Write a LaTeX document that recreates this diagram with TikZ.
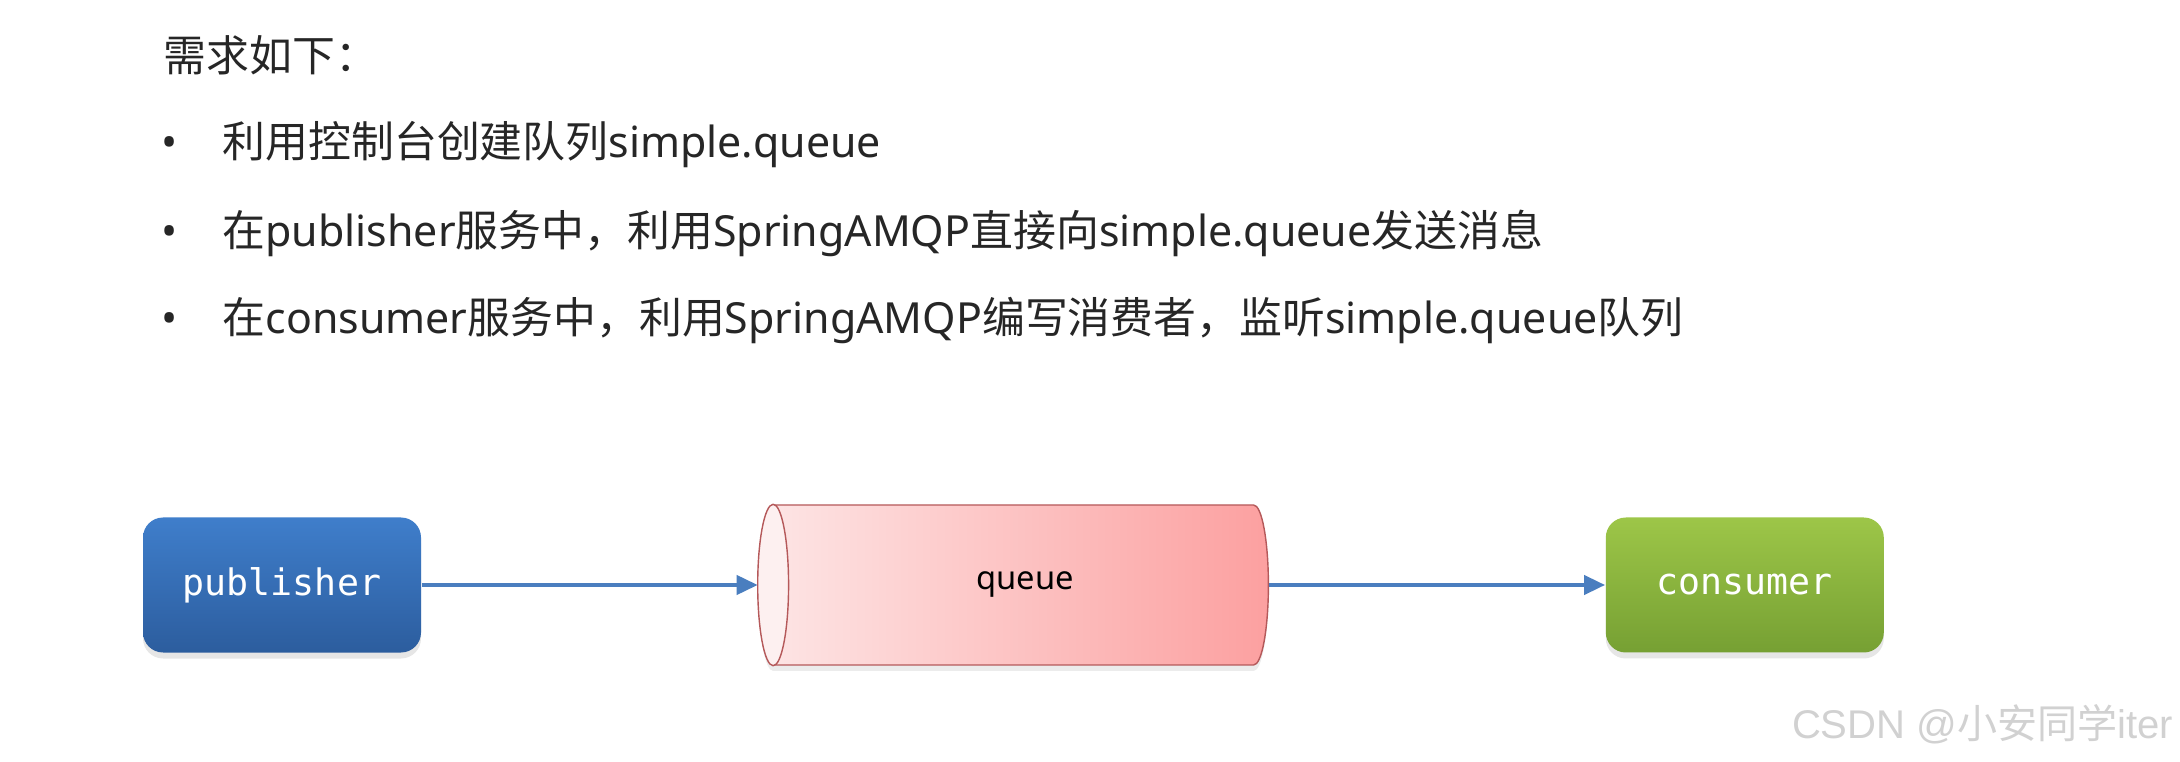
\documentclass[tikz,border=0pt]{standalone}
\usepackage{fontspec}
\setmainfont{Noto Sans}
\newfontfamily\zhfont{Noto Sans CJK SC}
\newfontfamily\codefont{DejaVu Sans Mono}
\newfontfamily\wmfont{Liberation Sans}
\newcommand{\zh}[1]{{\zhfont #1}}
\usepackage{xcolor}
\usetikzlibrary{
    arrows.meta,
    positioning,
    shapes.geometric,
    shadows,
    calc
}

\definecolor{pubtop}{HTML}{3F7ECB}
\definecolor{pubbot}{HTML}{2C5D9E}
\definecolor{contop}{HTML}{9DC648}
\definecolor{conbot}{HTML}{76A033}
\definecolor{queueleft}{HTML}{FDE6E6}
\definecolor{queueright}{HTML}{FCA0A0}
\definecolor{queueface}{HTML}{FDF0F0}
\definecolor{queueline}{HTML}{B5595A}
\definecolor{arrowblue}{HTML}{4A7EBF}

\begin{document}
\begin{tikzpicture}[
        x=0.1mm, y=-0.1mm,
        node distance=1cm and 3.36cm,
        txt/.style={
            inner sep=0pt,
            anchor=base west,
            text=black!85,
            font=\fontsize{12.2pt}{14pt}\selectfont
        },
        dot/.style={
            inner sep=0pt,
            anchor=base,
            text=black!85,
            font=\fontsize{12.2pt}{14pt}\selectfont
        },
        service/.style={
            rectangle,
            rounded corners=2mm,
            minimum width=2.78cm,
            minimum height=1.35cm,
            text=white,
            font=\codefont\fontsize{10.4pt}{12pt}\selectfont,
            drop shadow={shadow xshift=0pt, shadow yshift=-0.6mm, opacity=0.2}
        },
        queuebox/.style={
            cylinder,
            shape border rotate=180,
            aspect=0.6,
            minimum width=1.6cm,
            minimum height=5.1cm,
            draw=queueline,
            left color=queueleft,
            right color=queueright,
            font=\fontsize{9.3pt}{11pt}\selectfont,
            drop shadow={shadow xshift=0pt, shadow yshift=-0.6mm, opacity=0.15}
        },
        line/.style={
            -{Triangle[length=2.1mm, width=1.9mm]},
            line width=0.4mm,
            draw=arrowblue
        }
    ]

    \useasboundingbox (0,0) rectangle (2180,762);

    \node[txt] (title) at (163,72) {\zh{需求如下：}};

    \node[dot] (b1) at (170,158) {•};
    \node[txt] (l1) at (222,158) {\zh{利用控制台创建队列}simple.queue};

    \node[dot] (b2) at (170,247) {•};
    \node[txt] (l2) at (222,247)
        {\zh{在}publisher\zh{服务中，利用}SpringAMQP\zh{直接向}simple.queue\zh{发送消息}};

    \node[dot] (b3) at (170,334) {•};
    \node[txt] (l3) at (222,334)
        {\zh{在}consumer\zh{服务中，利用}SpringAMQP\zh{编写消费者，监听}simple.queue\zh{队列}};

    \node[service, top color=pubtop, bottom color=pubbot] (publisher) at (282,585) {publisher};
    \node[queuebox, right=of publisher] (queue) {queue};
    \node[service, top color=contop, bottom color=conbot, right=of queue] (consumer) {consumer};

    % front face of the queue
    \draw[queueline, fill=queueface]
        let \p1=(queue.before top), \p2=(queue.after top), \p3=(queue.top) in
        ($(\p1)!0.5!(\p2)$) ellipse ({abs(\x1-\x3)} and {abs(\y1-\y2)/2});

    \draw[line] (publisher) -- (queue);
    \draw[line] (queue) -- (consumer);

    \node[inner sep=0pt, anchor=east, text=black!18, font=\wmfont\fontsize{11.4pt}{13pt}\selectfont]
        (mark) at (2174,724) {CSDN @\zh{小安同学}iter};

\end{tikzpicture}
\end{document}
